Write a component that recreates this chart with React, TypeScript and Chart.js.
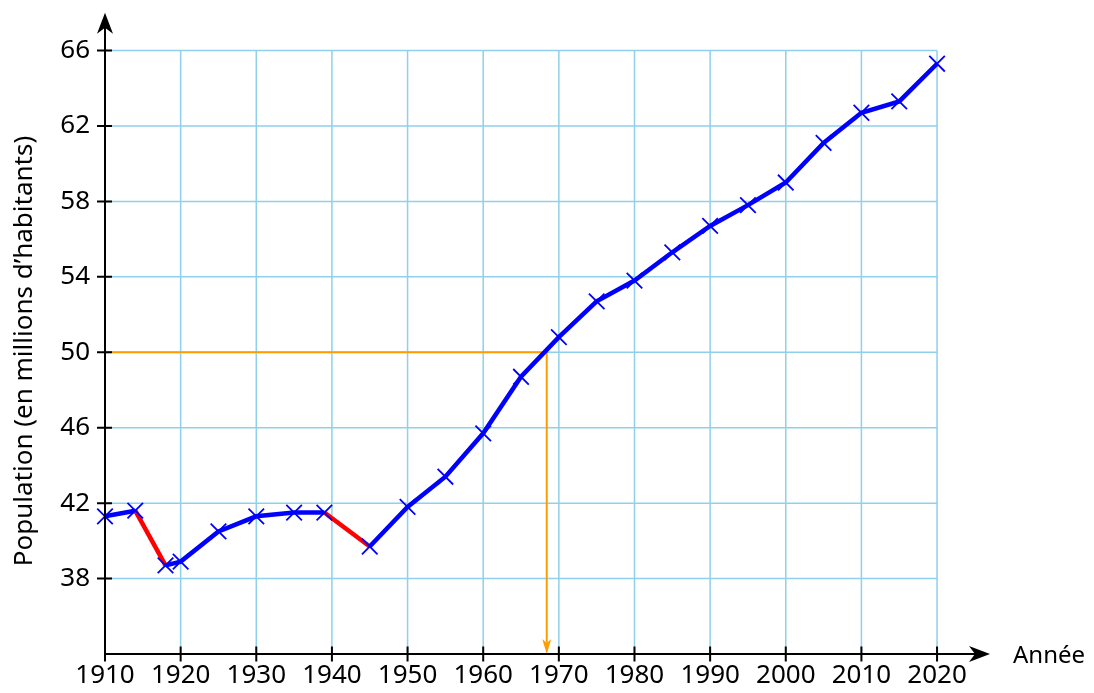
import React, { useEffect, useRef } from "react";
import { Chart, registerables } from "chart.js";

Chart.register(...registerables);

// ---- Data ----
const years = [1910, 1914, 1918, 1920, 1925, 1930, 1935, 1939, 1945, 1950, 1955, 1960, 1965, 1970, 1975, 1980, 1985, 1990, 1995, 2000, 2005, 2010, 2015, 2020];
const population = [41.3, 41.6, 38.7, 38.9, 40.5, 41.3, 41.5, 41.5, 39.7, 41.8, 43.4, 45.7, 48.7, 50.8, 52.7, 53.8, 55.3, 56.7, 57.8, 59.0, 61.1, 62.7, 63.3, 65.3];
const warStartYears = [1914, 1939];
const xTickValues = [1910, 1920, 1930, 1940, 1950, 1960, 1970, 1980, 1990, 2000, 2010, 2020];
const yTickValues = [38, 42, 46, 50, 54, 58, 62, 66];
const thresholdPopulation = 50;
const thresholdYear = 1968.4;
const xAxisRange = [1910, 2027];
const yAxisRange = [34, 68];

const xAxisTitle = "Année";
const yAxisTitle = "Population (en millions d\u2019habitants)";

const FONT = '"Noto Sans", "Open Sans", sans-serif';
const GRID_COLOR = "#8fd0ea";
const LINE_BLUE = "#0000ff";
const WAR_RED = "#ff0000";
const ORANGE = "#ff9d00";

function stealthArrow(ctx: CanvasRenderingContext2D, tipX: number, tipY: number, dirX: number, dirY: number, len: number, half: number, indent: number) {
  const px = -dirY, py = dirX;
  const bx = tipX - dirX * len, by = tipY - dirY * len;
  ctx.beginPath();
  ctx.moveTo(tipX, tipY);
  ctx.lineTo(bx + px * half, by + py * half);
  ctx.lineTo(tipX - dirX * (len - indent), tipY - dirY * (len - indent));
  ctx.lineTo(bx - px * half, by - py * half);
  ctx.closePath();
  ctx.fill();
}

const decorPlugin = {
  id: "decor",
  beforeDatasetsDraw(chart: any) {
    const { ctx, scales } = chart;
    const xs = scales.x, ys = scales.y;
    const gx0 = xs.getPixelForValue(xTickValues[0]);
    const gx1 = xs.getPixelForValue(xTickValues[xTickValues.length - 1]);
    const gy0 = ys.getPixelForValue(yAxisRange[0]);
    const gy1 = ys.getPixelForValue(yTickValues[yTickValues.length - 1]);
    ctx.save();
    ctx.strokeStyle = GRID_COLOR;
    ctx.lineWidth = 1.5;
    ctx.beginPath();
    xTickValues.forEach((v) => {
      const x = xs.getPixelForValue(v);
      ctx.moveTo(x, gy0);
      ctx.lineTo(x, gy1);
    });
    yTickValues.forEach((v) => {
      const y = ys.getPixelForValue(v);
      ctx.moveTo(gx0, y);
      ctx.lineTo(gx1, y);
    });
    ctx.stroke();
    ctx.restore();
  },
  afterDatasetsDraw(chart: any) {
    const { ctx, scales } = chart;
    const xs = scales.x, ys = scales.y;
    const ox = xs.getPixelForValue(xAxisRange[0]);
    const oy = ys.getPixelForValue(yAxisRange[0]);
    const xEnd = xs.getPixelForValue(xAxisRange[1]);
    const yEnd = ys.getPixelForValue(yAxisRange[1]);
    ctx.save();
    // orange arrowhead
    ctx.fillStyle = ORANGE;
    stealthArrow(ctx, xs.getPixelForValue(thresholdYear), oy, 0, 1, 15, 4.5, 4);
    // axes
    ctx.strokeStyle = "#000";
    ctx.fillStyle = "#000";
    ctx.lineWidth = 2;
    ctx.beginPath();
    ctx.moveTo(ox, oy);
    ctx.lineTo(xEnd - 6, oy);
    ctx.moveTo(ox, oy);
    ctx.lineTo(ox, yEnd + 6);
    ctx.stroke();
    stealthArrow(ctx, xEnd, oy, 1, 0, 21, 8, 6);
    stealthArrow(ctx, ox, yEnd, 0, -1, 21, 8, 6);
    // tick marks
    ctx.lineWidth = 2;
    ctx.beginPath();
    xTickValues.forEach((v) => {
      const x = xs.getPixelForValue(v);
      ctx.moveTo(x, oy - 7.5);
      ctx.lineTo(x, oy + 7.5);
    });
    yTickValues.forEach((v) => {
      const y = ys.getPixelForValue(v);
      ctx.moveTo(ox - 8, y);
      ctx.lineTo(ox + 7, y);
    });
    ctx.stroke();
    // titles
    ctx.font = `24px ${FONT}`;
    ctx.textAlign = "left";
    ctx.textBaseline = "middle";
    ctx.fillText(xAxisTitle, 1013, oy + 2);
    ctx.translate(25, 351);
    ctx.rotate(-Math.PI / 2);
    ctx.textAlign = "center";
    ctx.font = `26px ${FONT}`;
    ctx.fillText(yAxisTitle, 0, 0);
    ctx.restore();
  },
};

export default function App() {
  const canvasRef = useRef<HTMLCanvasElement | null>(null);

  useEffect(() => {
    const canvas = canvasRef.current;
    if (!canvas) return;
    const mainData = years.map((y, i) => ({ x: y, y: population[i] }));
    const readingData = [
      { x: xAxisRange[0], y: thresholdPopulation },
      { x: thresholdYear, y: thresholdPopulation },
      { x: thresholdYear, y: yAxisRange[0] + 0.6 },
    ];
    const zeroPad = (s: any) => {
      s.paddingTop = 0;
      s.paddingBottom = 0;
      s.paddingLeft = 0;
      s.paddingRight = 0;
    };
    const chart = new Chart(canvas, {
      type: "line",
      data: {
        datasets: [
          {
            data: mainData,
            borderColor: LINE_BLUE,
            borderWidth: 4.5,
            pointStyle: "crossRot",
            pointRadius: 11,
            pointBorderColor: LINE_BLUE,
            pointBorderWidth: 1.8,
            pointBackgroundColor: LINE_BLUE,
            tension: 0,
            clip: false as any,
            order: 0,
            segment: {
              borderColor: (c: any) =>
                warStartYears.includes(c.p0.parsed.x) ? WAR_RED : undefined,
            },
          },
          {
            data: readingData,
            borderColor: ORANGE,
            borderWidth: 2,
            pointRadius: 0,
            tension: 0,
            clip: false as any,
            order: 1,
          },
        ],
      },
      options: {
        animation: false,
        responsive: false,
        devicePixelRatio: 1,
        layout: { padding: { left: 0, top: 12, right: 104, bottom: 0 } },
        plugins: { legend: { display: false }, tooltip: { enabled: false } },
        scales: {
          x: {
            type: "linear",
            min: xAxisRange[0],
            max: xAxisRange[1],
            grid: { display: false, drawTicks: false },
            border: { display: false },
            afterBuildTicks: (s: any) => {
              s.ticks = xTickValues.map((v) => ({ value: v }));
            },
            afterFit: (s: any) => {
              s.height = 39;
              zeroPad(s);
            },
            ticks: {
              autoSkip: false,
              maxRotation: 0,
              padding: 6,
              color: "#000",
              font: { family: FONT, size: 26 },
              callback: (v: any) => String(v),
            },
          },
          y: {
            type: "linear",
            min: yAxisRange[0],
            max: yAxisRange[1],
            grid: { display: false, drawTicks: false },
            border: { display: false },
            afterBuildTicks: (s: any) => {
              s.ticks = yTickValues.map((v) => ({ value: v }));
            },
            afterFit: (s: any) => {
              s.width = 105;
              zeroPad(s);
            },
            ticks: {
              autoSkip: false,
              padding: 15,
              color: "#000",
              font: { family: FONT, size: 26 },
              callback: (v: any) => String(v),
            },
          },
        },
      },
      plugins: [decorPlugin],
    });
    return () => chart.destroy();
  }, []);

  return (
    <div style={{ position: "absolute", left: 0, top: 0, width: 1094, height: 693, background: "#fff" }}>
      <canvas ref={canvasRef} width={1094} height={693} style={{ display: "block" }} />
    </div>
  );
}
